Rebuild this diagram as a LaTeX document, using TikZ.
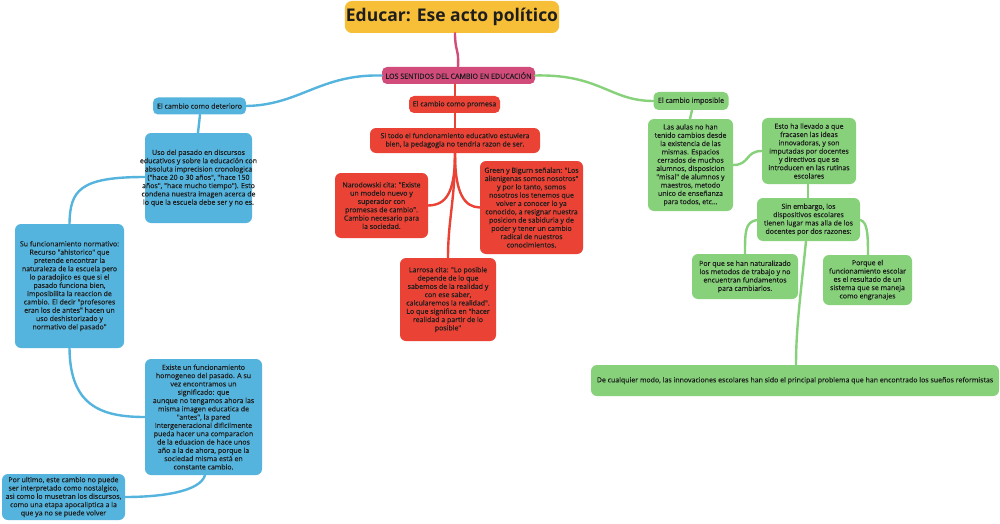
\documentclass[tikz,border=0pt]{standalone}
\usepackage{fontspec}
\setmainfont{Open Sans}
\newfontfamily\semifont[FakeBold=0.35]{Open Sans}
\definecolor{ttl}{HTML}{F7BE38}
\definecolor{pinkc}{HTML}{D14C7B}
\definecolor{redc}{HTML}{EA4335}
\definecolor{bluec}{HTML}{55B4DD}
\definecolor{greenc}{HTML}{86D17A}
\definecolor{txt}{HTML}{1E1E1E}
\newcommand\bodyfnt{\semifont\fontsize{7}{8.3}\selectfont}
\tikzset{
  box/.style={rectangle, rounded corners=6pt, inner sep=1pt, align=center, text=txt, font=\bodyfnt},
  lbl/.style={box, rounded corners=5pt, font=\semifont\fontsize{7.1}{8}\selectfont},
  bluebox/.style={box, fill=bluec},
  redbox/.style={box, fill=redc},
  greenbox/.style={box, fill=greenc},
  conn/.style={line width=2.4pt, line cap=round},
}
\begin{document}
\begin{tikzpicture}[x=1pt,y=-1pt]
\useasboundingbox[fill=white] (0,0) rectangle (1000,524);

% nodes
\node[box, fill=ttl, rounded corners=7pt, font=\fontsize{17.5}{20}\selectfont\bfseries, minimum width=212pt, minimum height=32pt] (title) at (452,17) {Educar: Ese acto político};
\node[lbl, fill=pinkc, minimum width=153pt, minimum height=17pt] (root) at (458.5,75.5) {LOS SENTIDOS DEL CAMBIO EN EDUCACIÓN};
\node[lbl, fill=redc, minimum width=91pt, minimum height=17pt] (prom) at (454.5,104.5) {El cambio como promesa};
\node[lbl, fill=bluec, minimum width=93pt, minimum height=17pt] (det) at (199.5,106) {El cambio como deterioro};
\node[lbl, fill=greenc, minimum width=75pt, minimum height=18pt] (imp) at (691,101) {El cambio imposible};

\node[bluebox, inner xsep=-6pt, minimum width=107pt, minimum height=90pt] (b1) at (198.5,178) {Uso del pasado en discursos\\educativos y sobre la educación con\\absoluta imprecision cronologica\\("hace 20 o 30 años", "hace 150\\años", "hace mucho tiempo"). Esto\\condena nuestra imagen acerca de\\lo que la escuela debe ser y no es.};
\node[bluebox, minimum width=109pt, minimum height=124pt] (b2) at (69.5,286) {Su funcionamiento normativo:\\Recurso "ahistorico" que\\pretende encontrar la\\naturaleza de la escuela pero\\lo paradojico es que si el\\pasado funciona bien,\\imposibilita la reaccion de\\cambio. El decir "profesores\\eran los de antes" hacen un\\uso deshistorizado y\\normativo del pasado"};
\node[bluebox, minimum width=117pt, minimum height=116pt] (b3) at (203.5,417) {Existe un funcionamiento\\homogeneo del pasado. A su\\vez encontramos un\\significado: que\\aunque no tengamos ahora las\\misma imagen educatica de\\"antes", la pared\\intergeneracional dificilmente\\pueda hacer una comparacion\\de la eduacion de hace unos\\año a la de ahora, porque la\\sociedad misma está en\\constante cambio.};
\node[bluebox, inner xsep=0pt, minimum width=123pt, minimum height=46pt] (b4) at (63.5,497) {Por ultimo, este cambio no puede\\ser interpretado como nostalgico,\\asi como lo musetran los discursos,\\como una etapa apocaliptica a la\\que ya no se puede volver};

\node[redbox, minimum width=170pt, minimum height=25pt] (r1) at (455,140.5) {Si todo el funcionamiento educativo estuviera\\bien, la pedagogia no tendria razon de ser.};
\node[redbox, minimum width=93pt, minimum height=65pt] (r2) at (381.5,205.5) {Narodowski cita: "Existe\\un modelo nuevo y\\superador con\\promesas de cambio".\\Cambio necesario para\\la sociedad.};
\node[redbox, minimum width=103pt, minimum height=93pt] (r3) at (531.5,207.5) {Green y Bigurn señalan: "Los\\alienigenas somos nosotros"\\y por lo tanto, somos\\nosotros los tenemos que\\volver a conocer lo ya\\conocido, a resignar nuestra\\posicion de sabiduria y de\\poder y tener un cambio\\radical de nuestros\\conocimientos.};
\node[redbox, minimum width=96pt, minimum height=83pt] (r4) at (448,299.5) {Larrosa cita: "Lo posible\\depende de lo que\\sabemos de la realidad y\\con ese saber,\\calcularemos la realidad".\\Lo que significa en "hacer\\realidad a partir de lo\\posible"};

\node[greenbox, minimum width=85pt, minimum height=92pt] (g1) at (690.5,165) {Las aulas no han\\tenido cambios desde\\la existencia de las\\mismas. Espacios\\cerrados de muchos\\alumnos, disposicion\\"misal" de alumnos y\\maestros, metodo\\unico de enseñanza\\para todos, etc...};
\node[greenbox, minimum width=94pt, minimum height=66pt] (g2) at (809,151) {Esto ha llevado a que\\fracasen las ideas\\innovadoras, y son\\imputadas por docentes\\y directivos que se\\introducen en las rutinas\\escolares};
\node[greenbox, minimum width=103pt, minimum height=43pt] (g3) at (808.5,219.5) {Sin embargo, los\\dispositivos escolares\\tienen lugar mas alla de los\\docentes por dos razones:};
\node[greenbox, minimum width=106pt, minimum height=45pt] (g4) at (745,276.5) {Por que se han naturalizado\\los metodos de trabajo y no\\encuentran fundamentos\\para cambiarlos.};
\node[greenbox, minimum width=89pt, minimum height=50pt] (g5) at (867.5,280) {Porque el\\funcionamiento escolar\\es el resultado de un\\sistema que se maneja\\como engranajes};
\node[greenbox, minimum width=408pt, minimum height=31pt] (g6) at (795,380.5) {De cualquier modo, las innovaciones escolares han sido el principal problema que han encontrado los sueños reformistas};

% connectors
\draw[conn, pinkc] (title.south -| 455,0) .. controls (455,52) and (459,48) .. (root.north -| 458,0);
\draw[conn, redc] (root.south -| 455,0) -- (prom.north -| 455,0);
\draw[conn, redc] (prom.south -| 455,0) -- (r1.north -| 455,0);
\draw[conn, bluec] (root.west) .. controls (320,74) and (300,105) .. (det.east);
\draw[conn, greenc] (root.east) .. controls (600,74) and (610,101) .. (imp.west);
\draw[conn, bluec] (det.south -| 200,0) -- (b1.north -| 198,0);
\draw[conn, bluec] (b1.west |- 0,177) .. controls (80,177) and (70,190) .. (b2.north);
\draw[conn, bluec] (b2.south) .. controls (70,405) and (100,417) .. (b3.west);
\draw[conn, bluec] (b3.south -| 205,0) .. controls (200,492) and (160,497) .. (b4.east |- 0,497);
\draw[conn, redc] (r1.south) .. controls (455,195) and (445,205) .. (r2.east);
\draw[conn, redc] (r1.south) .. controls (455,195) and (465,207) .. (r3.west);
\draw[conn, redc] (r1.south) .. controls (455,200) and (448,220) .. (r4.north);
\draw[conn, greenc] (imp.south -| 692,0) -- (g1.north -| 690,0);
\draw[conn, greenc] (g1.east |- 0,165) .. controls (750,165) and (745,151) .. (g2.west);
\draw[conn, greenc] (g2.south -| 808,0) -- (g3.north -| 808,0);
\draw[conn, greenc] (g3.west |- 0,220) .. controls (745,222) and (745,232) .. (g4.north);
\draw[conn, greenc] (g3.east |- 0,220) .. controls (867,222) and (868,232) .. (g5.north -| 868,0);
\draw[conn, greenc] (g3.south -| 806,0) .. controls (800,300) and (796,330) .. (g6.north -| 796,0);
\end{tikzpicture}
\end{document}
